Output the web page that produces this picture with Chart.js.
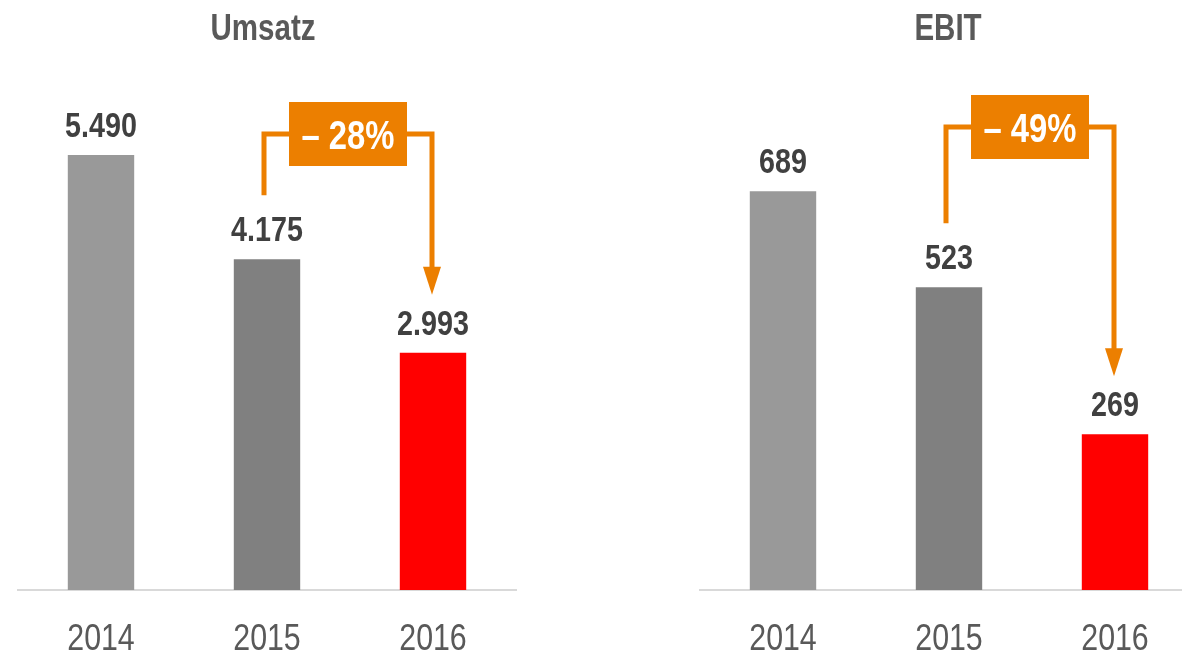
<!DOCTYPE html>
<html><head><meta charset="utf-8">
<script src="https://cdn.jsdelivr.net/npm/chart.js@4.4.1/dist/chart.umd.min.js"></script>
<style>
html,body{margin:0;padding:0;overflow:hidden;background:#fff;width:1182px;height:651px;position:relative;}
#c1{position:absolute;left:0;top:0;}
#c2{position:absolute;left:600px;top:0;}
</style></head><body>
<canvas id="c1" width="600" height="651"></canvas>
<canvas id="c2" width="640" height="651"></canvas>
<script>
// ---- data ----
const years = ['2014', '2015', '2016'];
const umsatz = [5490, 4175, 2993];
const ebit = [689, 523, 269];
const chartTitles = ['Umsatz', 'EBIT'];
const changeLabels = ['\u2013 28%', '\u2013 49%'];
const axisMax = [6500, 890];

// ---- style ----
const barColors = ['#999999', '#808080', '#FF0000'];
const ORANGE = '#EC7F00';
const FONT = '"Liberation Sans", Arial, sans-serif';
const NARROW = 0.82;

function fmtDE(v) {
  return String(v).replace(/\B(?=(\d{3})+(?!\d))/g, '.');
}

function narrowText(ctx, text, x, y, font, color, baseline) {
  ctx.save();
  ctx.font = font;
  ctx.fillStyle = color;
  ctx.textAlign = 'center';
  ctx.textBaseline = baseline || 'alphabetic';
  ctx.translate(x, y);
  ctx.scale(NARROW, 1);
  ctx.fillText(text, 0, 0);
  ctx.restore();
}

const overlay = {
  id: 'overlay',
  afterDraw(chart, args, opts) {
    const ctx = chart.ctx;
    const area = chart.chartArea;
    const xs = chart.scales.x;
    const meta = chart.getDatasetMeta(0);
    const data = chart.data.datasets[0].data;
    // title
    narrowText(ctx, opts.title, (area.left + area.right) / 2 + opts.titleDx, 40, 'bold 36px ' + FONT, '#595959');
    // category tick labels from the x scale
    xs.ticks.forEach((t, i) => {
      narrowText(ctx, xs.getLabelForValue(t.value), xs.getPixelForTick(i), area.bottom + 60, '37px ' + FONT, '#595959');
    });
    // value labels
    meta.data.forEach((bar, i) => {
      narrowText(ctx, fmtDE(data[i]), bar.x, bar.y - 18, 'bold 35px ' + FONT, '#404040');
    });
    // bracket arrow
    const a = meta.data[opts.from], b = meta.data[opts.to];
    const x1 = a.x - 3, x2 = b.x - 1;
    const yTop = opts.lineY;
    const yStart = a.y - 64;
    const yTip = b.y - 58;
    ctx.save();
    ctx.strokeStyle = ORANGE;
    ctx.lineWidth = 5;
    ctx.lineJoin = 'miter';
    ctx.beginPath();
    ctx.moveTo(x1, yStart);
    ctx.lineTo(x1, yTop);
    ctx.lineTo(x2, yTop);
    ctx.lineTo(x2, yTip - 26);
    ctx.stroke();
    ctx.fillStyle = ORANGE;
    ctx.beginPath();
    ctx.moveTo(x2 - 9, yTip - 28);
    ctx.lineTo(x2 + 9, yTip - 28);
    ctx.lineTo(x2, yTip);
    ctx.closePath();
    ctx.fill();
    const mx = (x1 + x2) / 2;
    ctx.fillRect(mx - 59, yTop - 32, 118, 64);
    ctx.restore();
    narrowText(ctx, opts.label, mx, yTop + 15, 'bold 40px ' + FONT, '#FFFFFF');
  }
};

function makeChart(id, values, title, label, max, padL, padR, lineY, titleDx) {
  return new Chart(document.getElementById(id), {
    type: 'bar',
    data: {
      labels: years,
      datasets: [{
        data: values,
        backgroundColor: barColors,
        borderWidth: 0,
        barPercentage: 0.4,
        categoryPercentage: 1.0
      }]
    },
    options: {
      responsive: false,
      animation: false,
      layout: { padding: { left: padL, right: padR, top: 75, bottom: 61 } },
      plugins: {
        legend: { display: false },
        tooltip: { enabled: false },
        title: { display: false },
        overlay: { from: 1, to: 2, title: title, label: label, lineY: lineY, titleDx: titleDx }
      },
      scales: {
        x: {
          grid: { display: false, drawTicks: false },
          border: { display: true, color: '#D9D9D9', width: 2 },
          ticks: { display: false }
        },
        y: { display: false, min: 0, max: max }
      }
    },
    plugins: [overlay]
  });
}

makeChart('c1', umsatz, chartTitles[0], changeLabels[0], axisMax[0], 18, 84, 134, -4);
makeChart('c2', ebit, chartTitles[1], changeLabels[1], axisMax[1], 100, 42, 127, -1);
</script>
</body></html>
